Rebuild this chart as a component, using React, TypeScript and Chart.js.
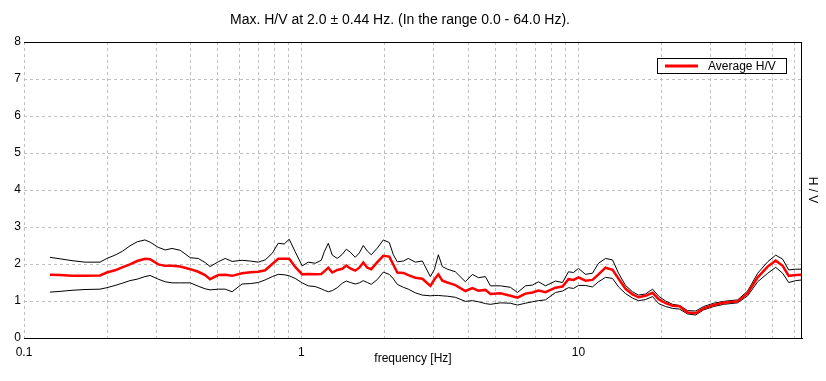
import { useEffect, useRef } from 'react';
import { Chart, registerables } from 'chart.js';

Chart.register(...registerables);

const TITLE = 'Max. H/V at 2.0 \u00B1 0.44 Hz. (In the range 0.0 - 64.0 Hz).';
const X_LABEL = 'frequency [Hz]';
const Y_LABEL = 'H / V';
const LEGEND_LABEL = 'Average H/V';

const frequency = [
  0.124, 0.135, 0.149, 0.166, 0.188, 0.199, 0.213, 0.226, 0.241, 0.256, 0.273, 0.285, 0.305, 0.323, 0.342, 0.366,
  0.398, 0.425, 0.45, 0.469, 0.502, 0.532, 0.563, 0.612, 0.655, 0.7, 0.741, 0.786, 0.826, 0.868, 0.905, 0.951,
  1.008, 1.06, 1.123, 1.181, 1.211, 1.252, 1.294, 1.349, 1.406, 1.454, 1.503, 1.566, 1.62, 1.674, 1.731, 1.789,
  1.881, 1.977, 2.078, 2.149, 2.221, 2.335, 2.434, 2.579, 2.734, 2.922, 3.021, 3.123, 3.228, 3.366, 3.597, 3.909,
  4.143, 4.355, 4.616, 4.812, 5.23, 5.682, 6.023, 6.438, 6.822, 7.172, 7.602, 8.26, 8.755, 9.203, 9.592, 10.0,
  10.6, 11.23, 11.81, 12.52, 13.27, 13.95, 14.78, 15.66, 16.47, 17.45, 18.5, 19.45, 20.62, 21.85, 23.15, 24.74,
  26.45, 28.27, 30.73, 33.38, 37.5, 40.75, 44.29, 48.13, 51.44, 54.52, 57.3, 60.73, 64.0,
];

const avgHV = [
  1.71, 1.7, 1.68, 1.68, 1.69, 1.77, 1.83, 1.91, 1.99, 2.08, 2.14, 2.13, 1.99, 1.95, 1.95, 1.93,
  1.86, 1.79, 1.7, 1.59, 1.7, 1.71, 1.68, 1.75, 1.78, 1.79, 1.83, 2.0, 2.14, 2.14, 2.14, 1.92,
  1.72, 1.73, 1.72, 1.73, 1.8, 1.9, 1.77, 1.84, 1.87, 1.96, 1.88, 1.82, 1.9, 2.04, 1.9, 1.86,
  2.05, 2.22, 2.2, 1.98, 1.77, 1.76, 1.7, 1.63, 1.6, 1.41, 1.58, 1.72, 1.55, 1.5, 1.43, 1.27,
  1.35, 1.28, 1.3, 1.19, 1.21, 1.14, 1.09, 1.2, 1.23, 1.28, 1.24, 1.36, 1.39, 1.59, 1.57, 1.64,
  1.55, 1.57, 1.72, 1.9, 1.84, 1.6, 1.33, 1.18, 1.1, 1.14, 1.22, 1.05, 0.94, 0.87, 0.86, 0.69,
  0.67, 0.8, 0.89, 0.95, 0.99, 1.21, 1.64, 1.93, 2.09, 1.95, 1.68, 1.7, 1.71,
];

const upperHV = [
  2.18, 2.14, 2.09, 2.05, 2.05, 2.15, 2.24, 2.34, 2.49, 2.6, 2.65, 2.59, 2.45, 2.38, 2.42, 2.37,
  2.17, 2.15, 2.04, 1.93, 2.06, 2.15, 2.07, 2.1, 2.08, 2.05, 2.11, 2.29, 2.56, 2.54, 2.67, 2.33,
  1.95, 2.05, 2.02, 2.1, 2.33, 2.56, 2.24, 2.15, 2.26, 2.4, 2.32, 2.18, 2.3, 2.5, 2.35, 2.25,
  2.43, 2.65, 2.58, 2.25, 2.06, 2.08, 2.15, 2.05, 2.08, 1.66, 1.85, 2.25, 1.93, 1.86, 1.79, 1.52,
  1.72, 1.63, 1.66, 1.41, 1.41, 1.37, 1.23, 1.41, 1.43, 1.52, 1.41, 1.54, 1.5, 1.79, 1.77, 1.88,
  1.72, 1.75, 2.02, 2.15, 2.11, 1.75, 1.42, 1.25, 1.16, 1.19, 1.32, 1.13, 1.0, 0.91, 0.88, 0.74,
  0.73, 0.85, 0.94, 0.99, 1.03, 1.27, 1.75, 2.06, 2.24, 2.13, 1.84, 1.86, 1.86,
];

const lowerHV = [
  1.24, 1.26, 1.29, 1.31, 1.32, 1.36, 1.42, 1.48, 1.55, 1.59, 1.66, 1.69, 1.59, 1.52, 1.49, 1.49,
  1.49, 1.4, 1.33, 1.3, 1.32, 1.32, 1.25, 1.46, 1.47, 1.5, 1.57, 1.66, 1.72, 1.71, 1.68, 1.61,
  1.49, 1.41, 1.39, 1.33, 1.29, 1.25, 1.28, 1.36, 1.48, 1.54, 1.5, 1.46, 1.49, 1.55, 1.5, 1.45,
  1.58, 1.78, 1.72, 1.6, 1.45, 1.37, 1.32, 1.22, 1.16, 1.14, 1.15, 1.15, 1.14, 1.13, 1.1, 0.99,
  1.01, 0.98, 0.93, 0.91, 0.95, 0.94, 0.89, 0.94, 0.98, 1.01, 1.03, 1.23, 1.27, 1.36, 1.34, 1.42,
  1.42, 1.38, 1.52, 1.64, 1.61, 1.38, 1.2, 1.08, 1.01, 1.04, 1.12, 0.93, 0.85, 0.8, 0.78, 0.65,
  0.62, 0.76, 0.85, 0.91, 0.95, 1.14, 1.52, 1.75, 1.91, 1.75, 1.5, 1.55, 1.57,
];

const xTicks = [
  0.1, 0.2, 0.3, 0.4, 0.5, 0.6, 0.7, 0.8, 0.9,
  1, 2, 3, 4, 5, 6, 7, 8, 9,
  10, 20, 30, 40, 50, 60,
];
const xLabeled = [0.1, 1, 10];
const X_MIN = 0.1;
const X_MAX = 64;
const Y_MIN = 0;
const Y_MAX = 8;

const FONT = '"Liberation Sans", Arial, Helvetica, sans-serif';

export default function App() {
  const ref = useRef<HTMLCanvasElement>(null);

  useEffect(() => {
    document.body.style.margin = '0';
    const canvas = ref.current;
    if (!canvas) return;

    const pts = (vals: number[]) => frequency.map((f, i) => ({ x: f, y: vals[i] }));

    const overlay = {
      id: 'overlay',
      afterDraw(chart: any) {
        const { ctx, chartArea: a } = chart;
        ctx.save();
        // top and right frame lines
        ctx.strokeStyle = '#000000';
        ctx.lineWidth = 1;
        ctx.setLineDash([]);
        ctx.beginPath();
        ctx.moveTo(a.left, Math.round(a.top) + 0.5);
        ctx.lineTo(a.right, Math.round(a.top) + 0.5);
        ctx.moveTo(Math.round(a.right) - 0.5, a.top);
        ctx.lineTo(Math.round(a.right) - 0.5, a.bottom);
        ctx.stroke();

        // title
        ctx.fillStyle = '#000000';
        ctx.font = `14px ${FONT}`;
        ctx.textAlign = 'center';
        ctx.textBaseline = 'middle';
        ctx.fillText(TITLE, 400, 20);

        // x axis title
        ctx.font = `12px ${FONT}`;
        ctx.fillText(X_LABEL, (a.left + a.right) / 2, 359);

        // y axis title on the right, rotated clockwise
        ctx.save();
        ctx.translate(812, (a.top + a.bottom) / 2);
        ctx.rotate(Math.PI / 2);
        ctx.fillText(Y_LABEL, 0, 0);
        ctx.restore();

        // legend box
        const ds = chart.data.datasets[0];
        const bx = Math.round(a.right) - 145;
        const by = Math.round(a.top) + 16;
        const bw = 129;
        const bh = 15;
        ctx.fillStyle = '#ffffff';
        ctx.fillRect(bx, by, bw, bh);
        ctx.strokeStyle = '#000000';
        ctx.lineWidth = 1;
        ctx.strokeRect(bx + 0.5, by + 0.5, bw, bh);
        ctx.strokeStyle = ds.borderColor;
        ctx.lineWidth = 3;
        ctx.beginPath();
        ctx.moveTo(bx + 8, by + 8);
        ctx.lineTo(bx + 41, by + 8);
        ctx.stroke();
        ctx.fillStyle = '#000000';
        ctx.textAlign = 'left';
        ctx.textBaseline = 'middle';
        ctx.fillText(ds.label, bx + 51, by + 8.5);
        ctx.restore();
      },
    };

    const chart = new Chart(canvas, {
      type: 'line',
      data: {
        datasets: [
          {
            label: LEGEND_LABEL,
            data: pts(avgHV),
            borderColor: '#ff0000',
            borderWidth: 2.5,
            pointRadius: 0,
            tension: 0,
            fill: false,
          },
          {
            label: 'upper',
            data: pts(upperHV),
            borderColor: '#000000',
            borderWidth: 1,
            pointRadius: 0,
            tension: 0,
            fill: false,
          },
          {
            label: 'lower',
            data: pts(lowerHV),
            borderColor: '#000000',
            borderWidth: 1,
            pointRadius: 0,
            tension: 0,
            fill: false,
          },
        ],
      },
      plugins: [overlay],
      options: {
        animation: false,
        responsive: false,
        maintainAspectRatio: false,
        devicePixelRatio: 1,
        events: [],
        layout: { padding: { top: 42, right: 24, left: 0, bottom: 0 } },
        plugins: {
          legend: { display: false },
          title: { display: false },
          tooltip: { enabled: false },
        },
        scales: {
          x: {
            type: 'logarithmic',
            min: X_MIN,
            max: X_MAX,
            afterBuildTicks: (scale: any) => {
              scale.ticks = xTicks.map((v) => ({ value: v }));
            },
            afterFit: (scale: any) => {
              scale.height = 43;
            },
            grid: {
              color: '#c0c0c0',
              lineWidth: 1,
              drawTicks: false,
            },
            border: { display: true, color: '#000000', width: 1, dash: [3, 3] },
            ticks: {
              autoSkip: false,
              maxRotation: 0,
              minRotation: 0,
              padding: 7,
              color: '#000000',
              font: { family: FONT, size: 12 },
              callback: (v: any) => (xLabeled.includes(Number(v)) ? String(v) : ''),
            },
          },
          y: {
            type: 'linear',
            min: Y_MIN,
            max: Y_MAX,
            afterFit: (scale: any) => {
              scale.width = 24;
            },
            grid: {
              color: (c: any) => (c.tick && (c.tick.value === Y_MIN || c.tick.value === Y_MAX) ? 'rgba(0,0,0,0)' : '#c0c0c0'),
              lineWidth: 1,
              drawTicks: false,
            },
            border: { display: false, dash: [3, 3] },
            ticks: {
              stepSize: 1,
              padding: 3,
              color: '#000000',
              font: { family: FONT, size: 12 },
            },
          },
        },
      },
    });

    return () => chart.destroy();
  }, []);

  return (
    <div style={{ width: 826, height: 381, background: '#ffffff' }}>
      <canvas ref={ref} width={826} height={381} style={{ display: 'block', width: 826, height: 381 }} />
    </div>
  );
}
